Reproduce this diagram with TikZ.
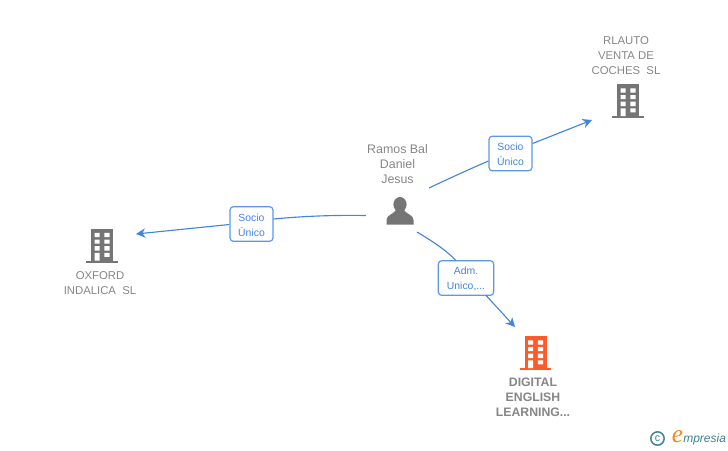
\documentclass[tikz,border=0pt]{standalone}
\usepackage{fontspec}
\setmainfont{Liberation Sans}
\newfontfamily\logofont{Liberation Serif}
\usetikzlibrary{arrows.meta}
\definecolor{linkblue}{HTML}{4285E0}
\definecolor{icongray}{HTML}{757575}
\definecolor{textgray}{HTML}{868686}
\definecolor{orangeicon}{HTML}{FF5A2B}
\definecolor{logoteal}{HTML}{3F7F95}
\definecolor{logoorange}{HTML}{F08A1D}
\newcommand{\lblstrut}{\rule{0pt}{7.2pt}}
\tikzset{
  x=0.75pt,y=-0.75pt,
  boxlabel/.style={draw=linkblue!85!white,line width=0.9pt,rounded corners=2.5pt,fill=white,text=linkblue,
    font=\fontsize{7.8}{11.25}\selectfont,align=center,inner sep=0pt},
  link/.style={draw=linkblue,line width=0.85pt},
  linkarrow/.style={link,-{Stealth[length=7pt,width=7pt,inset=2.2pt]}},
  nametext/.style={text=textgray,font=\fontsize{8.5}{11.25}\selectfont,align=center,inner sep=0pt},
  nameperson/.style={text=textgray,font=\fontsize{9.3}{11.25}\selectfont,align=center,inner sep=0pt},
  namebold/.style={text=textgray,font=\fontsize{9.2}{11.25}\selectfont\bfseries,align=center,inner sep=0pt},
  pics/building/.style={code={
    \fill[#1] (-11,0) rectangle (11,32);
    \fill[#1] (-15.7,32) rectangle (15.7,34.2);
    \fill[white] (-7.3,4.3) rectangle (-2.3,8.7) (2.3,4.3) rectangle (7.6,8.7)
      (-7.3,11) rectangle (-2.3,15) (2.3,11) rectangle (7.6,15)
      (-7.3,17.7) rectangle (-2.3,22) (2.3,17.7) rectangle (7.6,22)
      (-7.3,24.3) rectangle (-2.3,32) (2.3,24.3) rectangle (7.6,28.3);
  }},
}
\begin{document}
\begin{tikzpicture}
\useasboundingbox (0,0) rectangle (728,450);
% icons
\pic at (628,84) {building=icongray};
\pic at (102,228.5) {building=icongray};
\pic at (535.5,336) {building=orangeicon};
\fill[icongray] (400,204.5) ellipse (6.6 and 7.5);
\fill[icongray] (386.5,224.5) -- (386.5,220) .. controls (386.5,215) and (393,214.5) .. (396,210) -- (404,210) .. controls (407,214.5) and (413.5,215) .. (413.5,220) -- (413.5,224.5) -- cycle;
% names
\node[nameperson] (person) at (397.5,164.5) {Ramos Bal\\Daniel\\Jesus};
\node[nametext] (rlauto) at (626,56) {RLAUTO\\VENTA DE\\COCHES\ \ SL};
\node[nametext] (oxford) at (100,283) {OXFORD\\INDALICA\ \ SL};
\node[namebold] (digital) at (533,397) {DIGITAL\\ENGLISH\\LEARNING...};
% label boxes
\node[boxlabel,minimum width=32.2pt,minimum height=26pt] (l1) at (510.5,153.5) {\lblstrut Socio\\Único};
\node[boxlabel,minimum width=32.2pt,minimum height=26pt] (l2) at (251.5,224) {\lblstrut Socio\\Único};
\node[boxlabel,minimum width=41.5pt,minimum height=26pt] (l3) at (466,278) {\lblstrut Adm.\\Unico,...};
% connector ends
\coordinate (p1) at (429,188);
\coordinate (p2) at (366,215.5);
\coordinate (p3) at (417,232);
\coordinate (t1) at (592,120);
\coordinate (t2) at (136,234);
\coordinate (t3) at (515,327);
\coordinate (a1) at (l1.west |- 0,161);
\coordinate (b1) at (l1.east |- 0,143.5);
\coordinate (a2) at (l2.east |- 0,219);
\coordinate (b2) at (l2.west |- 0,224.5);
\coordinate (a3) at (456,260.6);
\coordinate (b3) at (486,295.4);
% connectors
\draw[link] (p1) .. controls (450,178) and (470,169) .. (a1);
\draw[linkarrow] (b1) -- (t1);
\draw[link] (p2) .. controls (335,215) and (305,216) .. (a2);
\draw[linkarrow] (b2) -- (t2);
\draw[link] (p3) .. controls (432,241) and (446,250) .. (a3);
\draw[linkarrow] (b3) -- (t3);
% logo
\node[draw=logoteal,line width=1.1pt,circle,minimum size=10pt,inner sep=0pt,text=logoteal,font=\fontsize{8}{8}\selectfont] (copy) at (657.5,438.5) {\raisebox{0.3pt}{c}};
\node[text=logoorange,font=\fontsize{19}{19}\selectfont\logofont\itshape,inner sep=0pt] (logoe) at (677.5,436.5) {e};
\node[text=logoteal,font=\fontsize{9}{10}\selectfont\itshape,inner sep=0pt,anchor=west] (logom) at (683,439) {mpresia};
\end{tikzpicture}
\end{document}
